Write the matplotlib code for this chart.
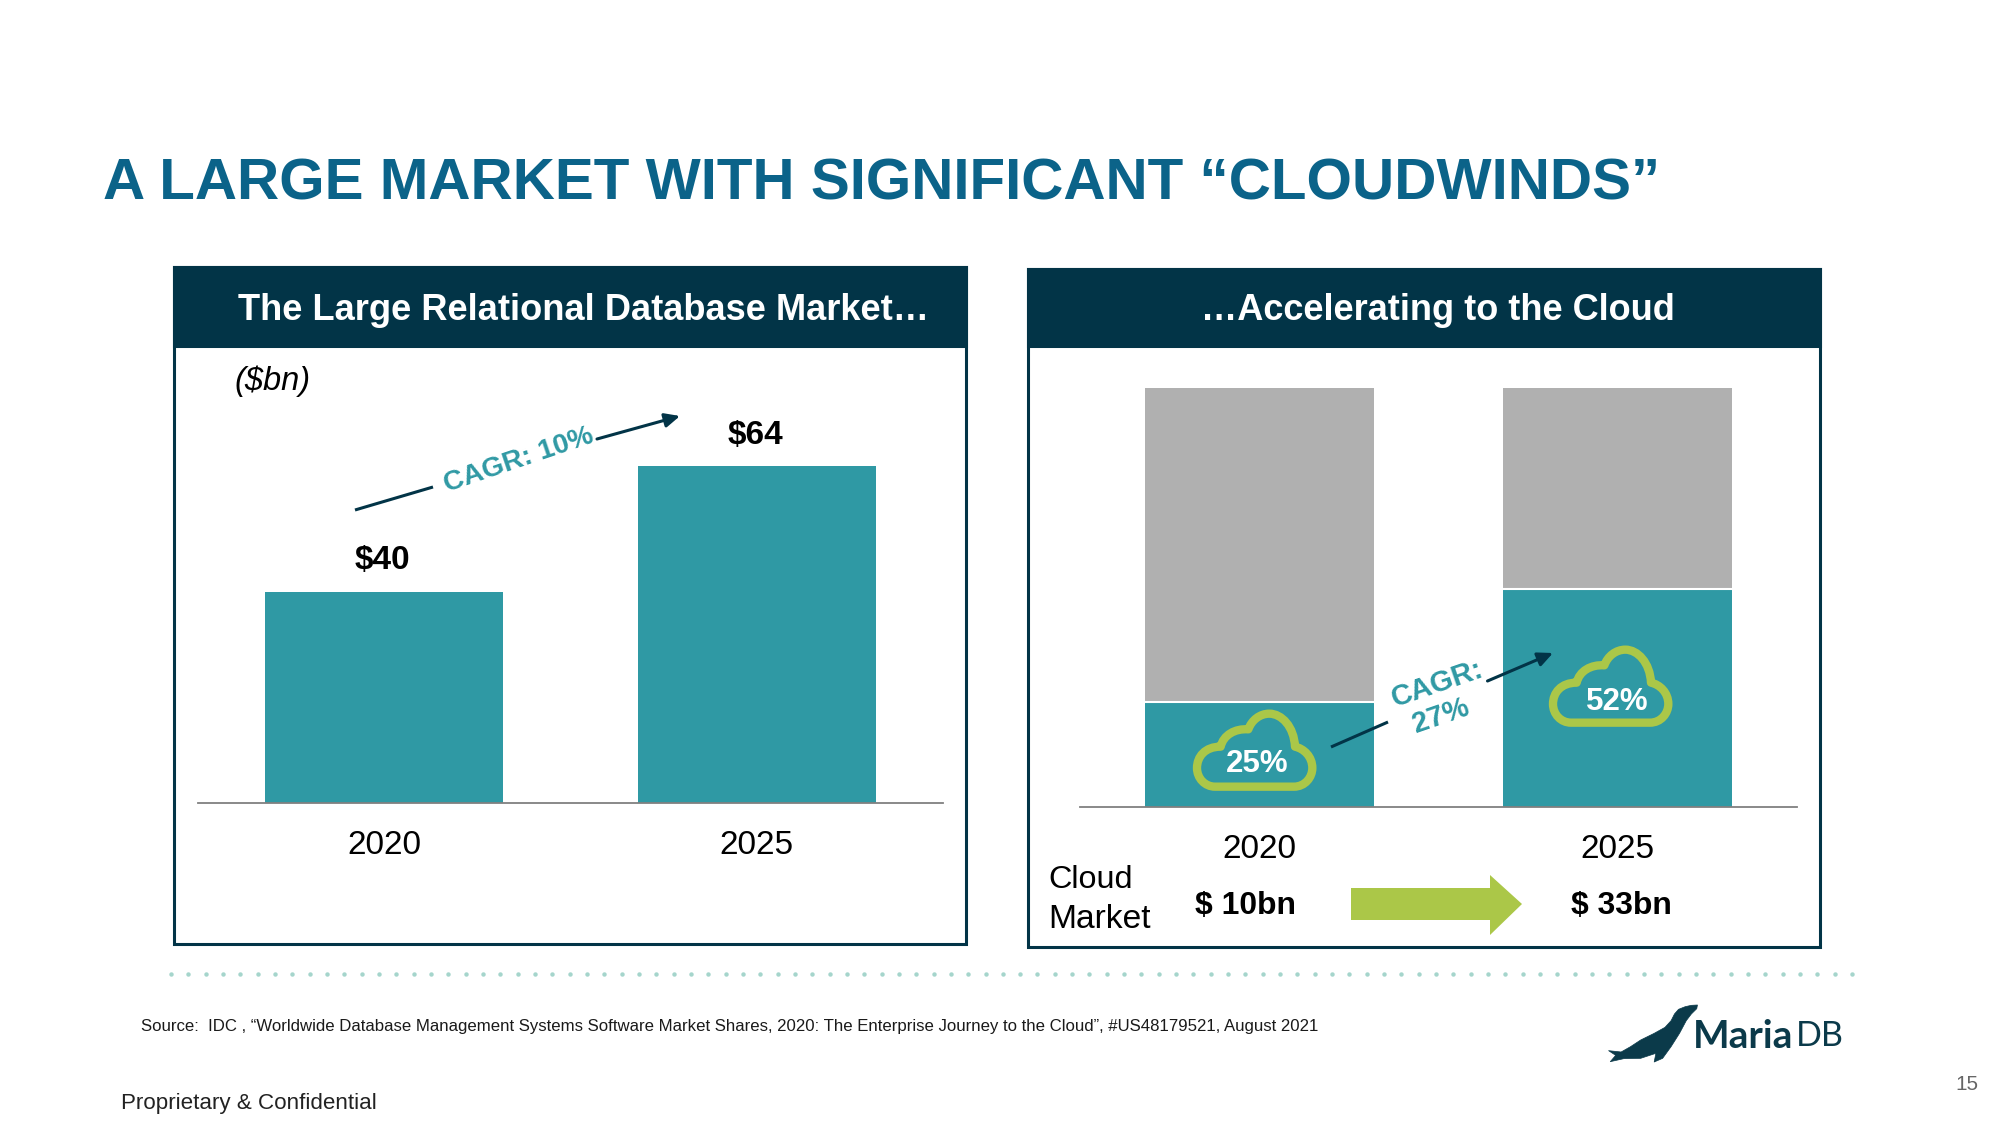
import numpy as np
import matplotlib
matplotlib.use("Agg")
import matplotlib.pyplot as plt
from matplotlib.patches import Rectangle, PathPatch, Polygon
from matplotlib.path import Path

# ---- data ----
years = ["2020", "2025"]
market_values = [40, 64]
market_labels = ["$40", "$64"]
cloud_share = [25, 52]
other_share = [75, 48]
cloud_labels = ["25%", "52%"]
cloud_market = ["$ 10bn", "$ 33bn"]

TEAL = "#2f99a4"
GREY = "#b0b0b0"
NAVY = "#023447"
GREEN = "#abc748"
BLUE = "#0b6389"
AXISC = "#808080"

plt.rcParams["font.family"] = ["Liberation Sans", "DejaVu Sans"]
W, H = 2000, 1125
fig = plt.figure(figsize=(20, 11.25), dpi=100, facecolor="white")


def overlay(z):
    a = fig.add_axes([0, 0, 1, 1], zorder=z)
    a.set_xlim(0, W)
    a.set_ylim(H, 0)
    a.axis("off")
    a.patch.set_alpha(0)
    return a


bg = overlay(0)
fg = overlay(5)
renderer = fig.canvas.get_renderer()


def fit(axis, s, x0, x1, yc, color="black", weight="normal", style="normal", rot=0, family=None):
    """Text sized so that its width is x1 - x0 pixels."""
    t = axis.text((x0 + x1) / 2, yc, s, color=color, fontweight=weight, fontstyle=style,
                  fontsize=20, ha="center", va="center", rotation=0, rotation_mode="anchor")
    if family:
        t.set_family(family)
    w = t.get_window_extent(renderer).width
    t.set_fontsize(20 * (x1 - x0) / w)
    t.set_rotation(rot)
    return t


# ---- title ----
fit(bg, "A LARGE MARKET WITH SIGNIFICANT \u201cCLOUDWINDS\u201d", 103, 1661, 185, color=BLUE, weight="bold")

# ---- panels ----
for x0, x1, y0, y1, title, tx0, tx1 in [
    (174, 966, 267, 944, "The Large Relational Database Market\u2026", 239, 928),
    (1028, 1820, 269, 947, "\u2026Accelerating to the Cloud", 1201.5, 1675),
]:
    bg.add_patch(Rectangle((x0, y0), x1 - x0, y1 - y0, fc="white", ec=NAVY, lw=2.2))
    bg.add_patch(Rectangle((x0, y0), x1 - x0, 346 - y0, fc=NAVY, ec=NAVY, lw=2.2))
    fit(bg, title, tx0, tx1, 311, color="white", weight="bold")


# ---- chart axes ----
def chart_axes(x0, x1, ybase, ytop, ymax):
    a = fig.add_axes([x0 / W, 1 - ybase / H, (x1 - x0) / W, (ybase - ytop) / H], zorder=2)
    a.patch.set_alpha(0)
    a.set_xlim(-0.5, 1.5)
    a.set_ylim(0, ymax)
    for s in ("top", "left", "right"):
        a.spines[s].set_visible(False)
    a.spines["bottom"].set_color(AXISC)
    a.spines["bottom"].set_linewidth(1.3)
    a.set_yticks([])
    a.set_xticks(range(len(years)))
    a.set_xticklabels(years, fontsize=24, color="black")
    a.tick_params(axis="x", length=0, pad=19.2)
    return a


xs = np.arange(len(years))
BW = 0.64

ax1 = chart_axes(198, 943, 803, 803 - 5.27 * 70, 70)
ax1.bar(xs, market_values, width=BW, color=TEAL, linewidth=0)
for x, v, s, off in zip(xs, market_values, market_labels, (23, 22)):
    ax1.annotate(s, (x, v), xytext=(-1, off), textcoords="offset points", ha="center", va="center",
                 fontsize=24, fontweight="bold", color="black")

ax2 = chart_axes(1080, 1797, 807, 388, 100)
ax2.bar(xs, cloud_share, width=BW, color=TEAL, linewidth=0)
ax2.bar(xs, other_share, bottom=cloud_share, width=BW, color=GREY, linewidth=0)
for x, v in zip(xs, cloud_share):
    ax2.plot([x - BW / 2, x + BW / 2], [v, v], color="white", lw=1.5, solid_capstyle="butt")

# ---- unit + CAGR annotations ----
fit(bg, "($bn)", 235, 311, 381, style="italic")


def arrow(p0, p1, p2, p3):
    fg.plot([p0[0], p1[0]], [p0[1], p1[1]], color=NAVY, lw=2.2, solid_capstyle="butt")
    fg.annotate("", xy=p3, xytext=p2, arrowprops=dict(arrowstyle="-|>,head_length=0.9,head_width=0.42",
                                                     color=NAVY, lw=2.2, shrinkA=0, shrinkB=0))


arrow((355, 510), (433, 487), (597, 439), (680, 416))
fit(fg, "CAGR: 10%", 441, 597, 460, color=TEAL, weight="bold", rot=18.7)

arrow((1331, 747), (1388, 722), (1487.5, 681), (1553, 653))
fg.text(1437, 684, "CAGR:", color=TEAL, fontweight="bold", fontsize=21, ha="center", va="center",
        rotation=19, rotation_mode="anchor")
fg.text(1441, 716, "27%", color=TEAL, fontweight="bold", fontsize=21, ha="center", va="center",
        rotation=19, rotation_mode="anchor")

# ---- clouds ----
M, L, C, Z = Path.MOVETO, Path.LINETO, Path.CURVE4, Path.CLOSEPOLY
cx, cy = 1180, 700
pts = [(105, 260), (342, 260),
       (375, 260), (397, 232), (397, 204),
       (397, 170), (372, 146), (345, 140),
       (342, 80), (305, 41), (268, 41),
       (240, 41), (215, 60), (205, 88),
       (165, 85), (130, 105), (122, 140),
       (75, 140), (51, 170), (51, 204),
       (51, 235), (75, 260), (105, 260), (105, 260)]
codes = [M, L, C, C, C, C, C, C, C, C, C, C, C, C, C, C, C, C, C, C, C, C, C, Z]
base = np.array(pts, float) / 3 + [cx, cy]
text_pos = [(1257, 764), (1617, 702)]
for (dx, dy), s, (tx, ty) in zip([(0, 0), (356, -64)], cloud_labels, text_pos):
    fg.add_patch(PathPatch(Path(base + [dx, dy], codes), fc="none", ec=GREEN, lw=6.0, joinstyle="round"))
    fg.text(tx, ty, s, color="white", fontweight="bold", fontsize=22.5, ha="center", va="center")

# ---- cloud market row ----
fit(bg, "Cloud", 1048.5, 1133, 880)
fit(bg, "Market", 1048.5, 1151, 919)
fit(bg, cloud_market[0], 1195, 1296, 906, weight="bold")
fit(bg, cloud_market[1], 1571, 1672, 906, weight="bold")
bg.add_patch(Polygon([(1351, 888), (1490, 888), (1490, 875), (1522, 904), (1490, 935), (1490, 920), (1351, 920)],
                     closed=True, fc=GREEN, ec="none"))

# ---- dotted rule ----
dots_x = np.arange(171, 1858, 17.33)
bg.plot(dots_x, np.full(len(dots_x), 974.0), ls="none", marker="o", ms=3.2, mfc="#a5d5cc", mec="none")

# ---- footer ----
fit(bg, "Source:  IDC , \u201cWorldwide Database Management Systems Software Market Shares, 2020: The Enterprise Journey to the Cloud\u201d, #US48179521, August 2021",
    146, 1314, 1027, color="#1a1a1a")
fit(bg, "Proprietary & Confidential", 122, 376, 1103.5, color="#222222")
fit(bg, "15", 1955, 1978, 1085, color="#666666")

# ---- logo ----
seal = np.array([(318, 45), (300, 46), (282, 50), (262, 58), (250, 72), (240, 92), (222, 112), (190, 130), (150, 150),
                 (120, 170), (92, 186), (55, 182), (76, 196), (60, 215), (100, 206), (150, 205), (195, 190),
                 (190, 216), (215, 205), (240, 170), (265, 130), (285, 92), (300, 72), (316, 56)], float)
seal = seal * [1 / 2.96, 1 / 3] + [1590, 990]
bg.add_patch(Polygon(seal, closed=True, fc="#0b3a4a", ec="#0b3a4a", lw=0.5, joinstyle="round"))
fit(bg, "Maria", 1693, 1793, 1036, color="#0b3a4a", weight="bold", family="Lato")
fit(bg, "DB", 1796, 1844, 1036, color="#0b3a4a", family="Lato")

fig.savefig("out.png", dpi=100)
